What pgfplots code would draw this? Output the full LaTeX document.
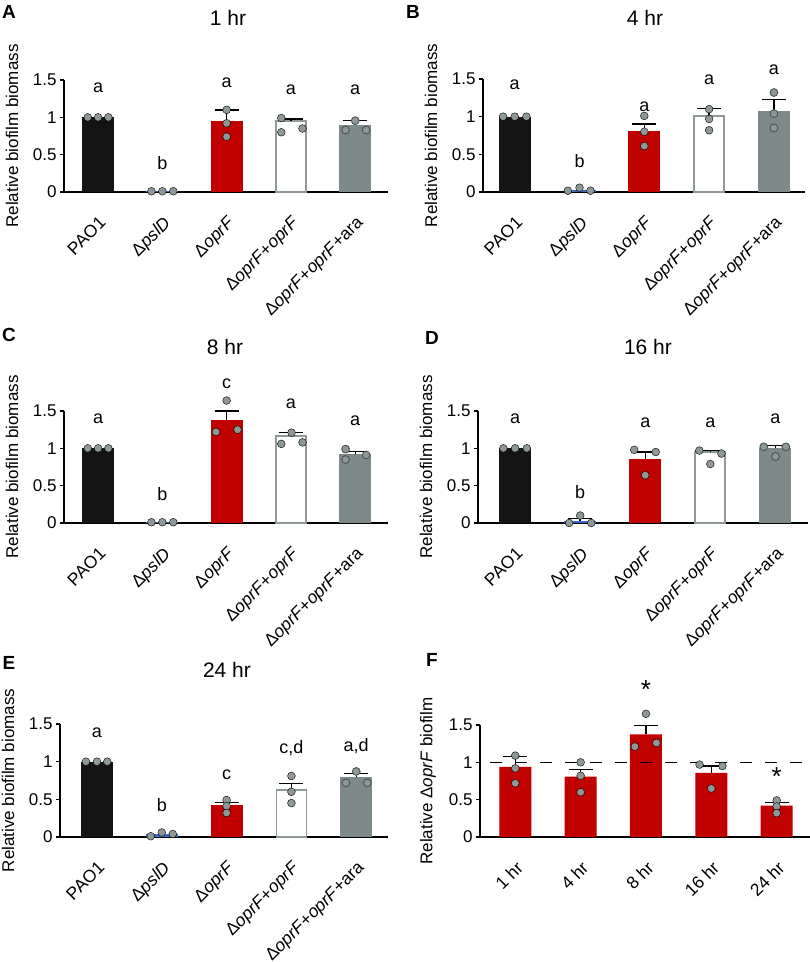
\documentclass[border=0pt]{standalone}
\usepackage{pgfplots}
\pgfplotsset{compat=1.18}
\usepackage{fontspec}
\setmainfont{Liberation Sans}
\definecolor{barblack}{HTML}{141414}
\definecolor{barred}{HTML}{C10000}
\definecolor{openedge}{HTML}{8F9999}
\definecolor{bargray}{HTML}{7D8A89}
\definecolor{dotgray}{HTML}{8E9897}
\definecolor{dotedge}{HTML}{4B5353}
\definecolor{pslblue}{HTML}{3F67C9}
\newcommand{\fs}[1]{\fontsize{#1}{#1}\selectfont}
\tikzset{lett/.style={font=\fs{18}}}
\pgfplotsset{
  panel/.style={
    scale only axis, anchor=south west, clip=false,
    ymin=0, ymax=1.5, ytick={0,0.5,1,1.5}, yticklabels={0,0.5,1,1.5},
    axis x line*=bottom, axis y line*=left,
    axis line style={line width=1.6pt, black},
    xtick={0,1,2,3,4},
    x tick style={draw=none},
    y tick style={line width=1.6pt, black},
    tick align=outside, major tick length=4pt,
    yticklabel style={font=\fs{17}},
    xticklabel shift=19pt,
    xticklabel style={font=\fs{17.5}, rotate=45, anchor=north east, inner sep=0pt},
    every axis y label/.style={at={(axis description cs:0,0.5)}, xshift=-52pt, rotate=90, anchor=center, font=\fs{17}},
    /pgf/number format/assume math mode=true,
  },
  strains/.style={xticklabels={PAO1, Δ\textit{pslD}, Δ\textit{oprF}, Δ\textit{oprF}+\textit{oprF}, Δ\textit{oprF}+\textit{oprF}+ara}},
  barnoerr/.style={ybar, bar shift=0pt, bar width=32pt, draw=none},
  bar/.style={ybar, bar shift=0pt, bar width=32pt, draw=none,
    error bars/y dir=plus, error bars/y explicit,
    error bars/error bar style={black, line width=1.4pt, solid},
    error bars/error mark options={rotate=90, black, mark size=12pt, line width=1.4pt, solid}},
  openbar/.style={bar, fill=white, draw=openedge, line width=1.8pt, bar width=30pt},
  dots/.style={only marks, mark=*, mark size=3.9pt, mark options={fill=dotgray, draw=none}},
  dotsg/.style={only marks, mark=*, mark size=3.9pt, mark options={fill=dotgray, draw=dotedge, line width=0.9pt}},
}
\begin{document}
\begin{tikzpicture}
\useasboundingbox (0,0) rectangle (810pt,962pt);
% panel labels and titles
\node[font=\fs{19}\bfseries] at (9pt,950pt) {A};
\node[font=\fs{19}\bfseries] at (413pt,950pt) {B};
\node[font=\fs{19}\bfseries] at (9pt,627pt) {C};
\node[font=\fs{19}\bfseries] at (432pt,624pt) {D};
\node[font=\fs{19}\bfseries] at (9pt,299pt) {E};
\node[font=\fs{19}\bfseries] at (432pt,302pt) {F};
\node[font=\fs{21}] at (228pt,944pt) {1 hr};
\node[font=\fs{21}] at (645pt,944pt) {4 hr};
\node[font=\fs{21}] at (225pt,615pt) {8 hr};
\node[font=\fs{21}] at (648pt,615pt) {16 hr};
\node[font=\fs{21}] at (227pt,292pt) {24 hr};

% ---------- A ----------
\begin{axis}[panel, strains, at={(64pt,770pt)}, width=324pt, height=112pt, xmin=-0.53, xmax=4.51,
  ylabel={Relative biofilm biomass}]
\addplot[barnoerr, fill=barblack] coordinates {(0,1)};
\addplot[barnoerr, fill=pslblue] coordinates {(1,0.01)};
\addplot[bar, fill=barred] coordinates {(2,0.95) +- (0,0.15)};
\addplot[openbar] coordinates {(3,0.95) +- (0,0.03)};
\addplot[bar, fill=bargray] coordinates {(4,0.90) +- (0,0.055)};
\addplot[dots] coordinates {(-0.16,1) (0,1) (0.16,1) (0.83,0.01) (1,0.01) (1.17,0.01)
  (2,1.10) (2,0.92) (2,0.74) (2.85,0.99) (2.85,0.80) (3.18,0.85)};
\addplot[dotsg] coordinates {(3.85,0.83) (4,0.955) (4.17,0.83)};
\node[lett] at (axis cs:0,1.39) {a};
\node[lett] at (axis cs:1,0.39) {b};
\node[lett] at (axis cs:2,1.46) {a};
\node[lett] at (axis cs:3,1.37) {a};
\node[lett] at (axis cs:4,1.37) {a};
\end{axis}

% ---------- B ----------
\begin{axis}[panel, strains, at={(483pt,770pt)}, width=322pt, height=113pt, xmin=-0.49, xmax=4.48,
  ylabel={Relative biofilm biomass}]
\addplot[barnoerr, fill=barblack] coordinates {(0,1)};
\addplot[barnoerr, fill=pslblue] coordinates {(1,0.03)};
\addplot[bar, fill=barred] coordinates {(2,0.81) +- (0,0.09)};
\addplot[openbar] coordinates {(3,1.01) +- (0,0.10)};
\addplot[bar, fill=bargray] coordinates {(4,1.08) +- (0,0.15)};
\addplot[dots] coordinates {(-0.18,1) (0,1) (0.18,1) (0.82,0.017) (1,0.057) (1.17,0.017)
  (2,1.01) (2,0.80) (2,0.61) (3,1.10) (3,0.97) (3,0.82)};
\addplot[dotsg] coordinates {(4,1.32) (4,1.04) (4,0.85)};
\node[lett] at (axis cs:0,1.43) {a};
\node[lett] at (axis cs:1,0.41) {b};
\node[lett] at (axis cs:2,1.13) {a};
\node[lett] at (axis cs:3,1.49) {a};
\node[lett] at (axis cs:4,1.62) {a};
\end{axis}

% ---------- C ----------
\begin{axis}[panel, strains, at={(64pt,439pt)}, width=324pt, height=112pt, xmin=-0.53, xmax=4.51,
  ylabel={Relative biofilm biomass}]
\addplot[barnoerr, fill=barblack] coordinates {(0,1)};
\addplot[barnoerr, fill=pslblue] coordinates {(1,0.01)};
\addplot[bar, fill=barred] coordinates {(2,1.38) +- (0,0.12)};
\addplot[openbar] coordinates {(3,1.16) +- (0,0.05)};
\addplot[bar, fill=bargray] coordinates {(4,0.92) +- (0,0.04)};
\addplot[dots] coordinates {(-0.16,1) (0,1) (0.16,1) (0.83,0.01) (1,0.01) (1.17,0.01)
  (2,1.64) (1.835,1.22) (2.17,1.25) (3.01,1.21) (2.85,1.06) (3.18,1.08)};
\addplot[dotsg] coordinates {(3.85,0.99) (3.85,0.85) (4.17,0.91)};
\node[lett] at (axis cs:0,1.39) {a};
\node[lett] at (axis cs:1,0.39) {b};
\node[lett] at (axis cs:2,1.87) {c};
\node[lett] at (axis cs:3,1.60) {a};
\node[lett] at (axis cs:4,1.37) {a};
\end{axis}

% ---------- D ----------
\begin{axis}[panel, strains, at={(478pt,439pt)}, width=330pt, height=112pt, xmin=-0.57, xmax=4.5,
  ylabel={Relative biofilm biomass}]
\addplot[barnoerr, fill=barblack] coordinates {(0,1)};
\addplot[bar, fill=pslblue] coordinates {(1,0.03) +- (0,0.03)};
\addplot[bar, fill=barred] coordinates {(2,0.86) +- (0,0.09)};
\addplot[openbar] coordinates {(3,0.95) +- (0,0.02)};
\addplot[bar, fill=bargray] coordinates {(4,1.0) +- (0,0.04)};
\addplot[dots] coordinates {(-0.18,1) (0,1) (0.18,1) (0.83,0) (1,0.10) (1.17,0)
  (1.83,0.98) (2.16,0.95) (2,0.64) (2.83,0.97) (3,0.79) (3.17,0.93)};
\addplot[dotsg] coordinates {(3.82,1.02) (4,0.89) (4.16,1.02)};
\node[lett] at (axis cs:0,1.39) {a};
\node[lett] at (axis cs:1,0.42) {b};
\node[lett] at (axis cs:2,1.34) {a};
\node[lett] at (axis cs:3,1.34) {a};
\node[lett] at (axis cs:4,1.40) {a};
\end{axis}

% ---------- E ----------
\begin{axis}[panel, strains, at={(60pt,125pt)}, width=328pt, height=113pt, xmin=-0.57, xmax=4.49,
  ylabel={Relative biofilm biomass}]
\addplot[barnoerr, fill=barblack] coordinates {(0,1)};
\addplot[barnoerr, fill=pslblue] coordinates {(1,0.04)};
\addplot[bar, fill=barred] coordinates {(2,0.42) +- (0,0.04)};
\addplot[openbar] coordinates {(3,0.62) +- (0,0.09)};
\addplot[bar, fill=bargray] coordinates {(4,0.79) +- (0,0.05)};
\addplot[dots] coordinates {(-0.17,1) (0,1) (0.16,1) (0.83,0.01) (1,0.06) (1.17,0.04)
  (2,0.49) (2,0.41) (2,0.32) (3,0.81) (3,0.60) (3,0.45)};
\addplot[dotsg] coordinates {(4,0.87) (3.84,0.72) (4.17,0.72)};
\node[lett] at (axis cs:0,1.39) {a};
\node[lett] at (axis cs:1,0.42) {b};
\node[lett] at (axis cs:2,0.83) {c};
\node[lett] at (axis cs:3,1.18) {c,d};
\node[lett] at (axis cs:4,1.21) {a,d};
\end{axis}

% ---------- F ----------
\begin{axis}[panel, at={(480pt,125pt)}, width=330pt, height=112pt, xmin=-0.54, xmax=4.51,
  xticklabels={1 hr, 4 hr, 8 hr, 16 hr, 24 hr},
  ylabel={Relative Δ\textit{oprF} biofilm}]
\addplot[bar, fill=barred] coordinates {(0,0.94) +- (0,0.14) (1,0.81) +- (0,0.09) (2,1.375) +- (0,0.115) (3,0.86) +- (0,0.09) (4,0.42) +- (0,0.04)};
\addplot[black, line width=1pt, dash pattern=on 12pt off 13pt, dash phase=15pt] coordinates {(-0.54,1) (4.51,1)};
\addplot[dots] coordinates {(0,1.09) (0,0.92) (0,0.72) (1,1.0) (1,0.82) (1,0.60)
  (2,1.65) (1.83,1.21) (2.16,1.26) (2.82,0.97) (3.17,0.95) (3,0.65) (4,0.49) (4,0.41) (4,0.32)};
\node[font=\fs{26}] at (axis cs:2,1.98) {*};
\node[font=\fs{26}] at (axis cs:4,0.81) {*};
\end{axis}
\end{tikzpicture}
\end{document}
